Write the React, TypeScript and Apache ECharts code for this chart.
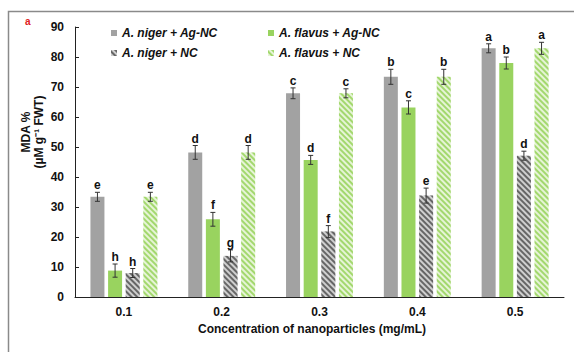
import React, { useEffect, useRef } from "react";
import * as echarts from "echarts";

const categories = ["0.1", "0.2", "0.3", "0.4", "0.5"];
const seriesNames = ["A. niger + Ag-NC", "A. flavus + Ag-NC", "A. niger + NC", "A. flavus + NC"];
const nigerAg = [33.4, 48.2, 67.9, 73.4, 82.9];
const flavusAg = [8.8, 25.9, 45.7, 63.2, 78.0];
const nigerNC = [8.0, 13.7, 21.8, 33.8, 47.1];
const flavusNC = [33.4, 48.2, 67.9, 73.4, 82.9];
const nigerAgErr = [1.5, 2.3, 1.8, 2.5, 1.5];
const flavusAgErr = [2.2, 2.3, 1.5, 2.2, 2.0];
const nigerNCErr = [1.5, 2.0, 2.0, 2.5, 1.5];
const flavusNCErr = [1.5, 2.3, 1.5, 2.5, 2.0];
const nigerAgLetters = ["e", "d", "c", "b", "a"];
const flavusAgLetters = ["h", "f", "d", "c", "b"];
const nigerNCLetters = ["h", "g", "f", "e", "d"];
const flavusNCLetters = ["e", "d", "c", "b", "a"];
const yTicks = [0, 10, 20, 30, 40, 50, 60, 70, 80, 90];

const BAR_W = 14;
const GAP_RATIO = 0.26;

export default function App() {
  const ref = useRef<HTMLDivElement>(null);
  useEffect(() => {
    if (!ref.current) return;
    const chart = echarts.init(ref.current, null, { renderer: "svg" });
    const values = [nigerAg, flavusAg, nigerNC, flavusNC];
    const errs = [nigerAgErr, flavusAgErr, nigerNCErr, flavusNCErr];
    const letters = [nigerAgLetters, flavusAgLetters, nigerNCLetters, flavusNCLetters];

    const styles: any[] = [
      { color: "#a2a2a2" },
      { color: "#99d35f" },
      {
        color: "#cfcfcf",
        decal: { symbol: "rect", color: "#666666", dashArrayX: [1, 0], dashArrayY: [1.1, 1.3], rotation: Math.PI / 4, symbolSize: 1 },
      },
      {
        color: "#e6f4d6",
        decal: { symbol: "rect", color: "#a3d86e", dashArrayX: [1, 0], dashArrayY: [1.3, 1.3], rotation: Math.PI / 4, symbolSize: 1 },
      },
    ];

    const errData: any[] = [];
    values.forEach((arr, s) => {
      arr.forEach((v, c) => {
        errData.push([c, v, s, errs[s][c], letters[s][c]]);
      });
    });

    const font = "Liberation Sans, Arial, sans-serif";
    const legendPos = [
      { left: 106, top: 22 },
      { left: 263, top: 22 },
      { left: 106, top: 42 },
      { left: 263, top: 42 },
    ];

    chart.setOption({
      animation: false,
      grid: { left: 75, right: 10, top: 27, bottom: 55, containLabel: false },
      legend: seriesNames.map((n, i) => ({
        data: [n],
        left: legendPos[i].left,
        top: legendPos[i].top,
        itemWidth: 6,
        itemHeight: 6,
        itemGap: 0,
        icon: "rect",
        textStyle: { fontFamily: font, fontSize: 12, fontWeight: "bold", fontStyle: "italic", color: "#111" },
        selectedMode: false,
      })),
      xAxis: {
        type: "category",
        data: categories,
        axisLine: { lineStyle: { color: "#222", width: 1 } },
        axisTick: { inside: true, length: 4, lineStyle: { color: "#222" } },
        axisLabel: { fontFamily: font, fontSize: 12, fontWeight: "bold", color: "#111", margin: 9 },
      },
      yAxis: {
        type: "value",
        min: 0,
        max: 90,
        interval: 10,
        splitLine: { show: false },
        axisLine: { show: true, lineStyle: { color: "#222", width: 1 } },
        axisTick: { show: true, inside: true, length: 4, lineStyle: { color: "#222" } },
        axisLabel: {
          fontFamily: font,
          fontSize: 12,
          fontWeight: "bold",
          color: "#111",
          margin: 11,
          formatter: (v: number) => (yTicks.includes(v) ? String(v) : ""),
        },
      },
      series: [
        ...values.map((arr, s) => ({
          name: seriesNames[s],
          type: "bar",
          data: arr,
          barWidth: BAR_W,
          barGap: GAP_RATIO * 100 + "%",
          itemStyle: styles[s],
        })),
        {
          type: "custom",
          z: 10,
          encode: { x: 0, y: 1 },
          data: errData,
          renderItem: (params: any, api: any) => {
            const c = api.value(0);
            const v = api.value(1);
            const s = api.value(2);
            const e = api.value(3);
            const letter = letters[s][c];
            const gap = BAR_W * GAP_RATIO;
            const total = 4 * BAR_W + 3 * gap;
            const center = api.coord([c, v]);
            const x = center[0] - total / 2 + s * (BAR_W + gap) + BAR_W / 2;
            const yHi = api.coord([c, v + e])[1];
            const yLo = api.coord([c, v - e])[1];
            const st = { stroke: "#333", lineWidth: 1 };
            return {
              type: "group",
              children: [
                { type: "line", shape: { x1: x, y1: yHi, x2: x, y2: yLo }, style: st },
                { type: "line", shape: { x1: x - 2.5, y1: yHi, x2: x + 2.5, y2: yHi }, style: st },
                { type: "line", shape: { x1: x - 2.5, y1: yLo, x2: x + 2.5, y2: yLo }, style: st },
                {
                  type: "text",
                  x: x,
                  y: yHi - 1,
                  style: {
                    text: letter,
                    fontFamily: font,
                    fontSize: 12,
                    fontWeight: "bold",
                    fill: "#111",
                    align: "center",
                    verticalAlign: "bottom",
                  },
                },
              ],
            };
          },
        },
      ],
      graphic: [
        {
          type: "rect",
          shape: { x: 8.5, y: 11.5, width: 700, height: 500 },
          style: { fill: "none", stroke: "#8a8a8a", lineWidth: 1.5 },
          silent: true,
        },
        {
          type: "text",
          left: 25,
          top: 16,
          style: { text: "a", fontFamily: font, fontSize: 10, fontWeight: "bold", fill: "#e02020" },
        },
        {
          type: "text",
          x: 32,
          y: 132,
          rotation: Math.PI / 2,
          style: {
            text: "MDA %\n(µM g⁻¹ FWT)",
            fontFamily: font,
            fontSize: 12,
            fontWeight: "bold",
            fill: "#111",
            align: "center",
            verticalAlign: "middle",
            lineHeight: 13,
          },
        },
        {
          type: "text",
          x: 312,
          y: 329,
          style: {
            text: "Concentration of nanoparticles (mg/mL)",
            fontFamily: font,
            fontSize: 12,
            fontWeight: "bold",
            fill: "#111",
            align: "center",
            verticalAlign: "middle",
          },
        },
      ],
    });
    return () => chart.dispose();
  }, []);
  return (
    <div
      ref={ref}
      style={{ position: "fixed", left: 0, top: 0, width: 574, height: 352, background: "#fff" }}
    />
  );
}
